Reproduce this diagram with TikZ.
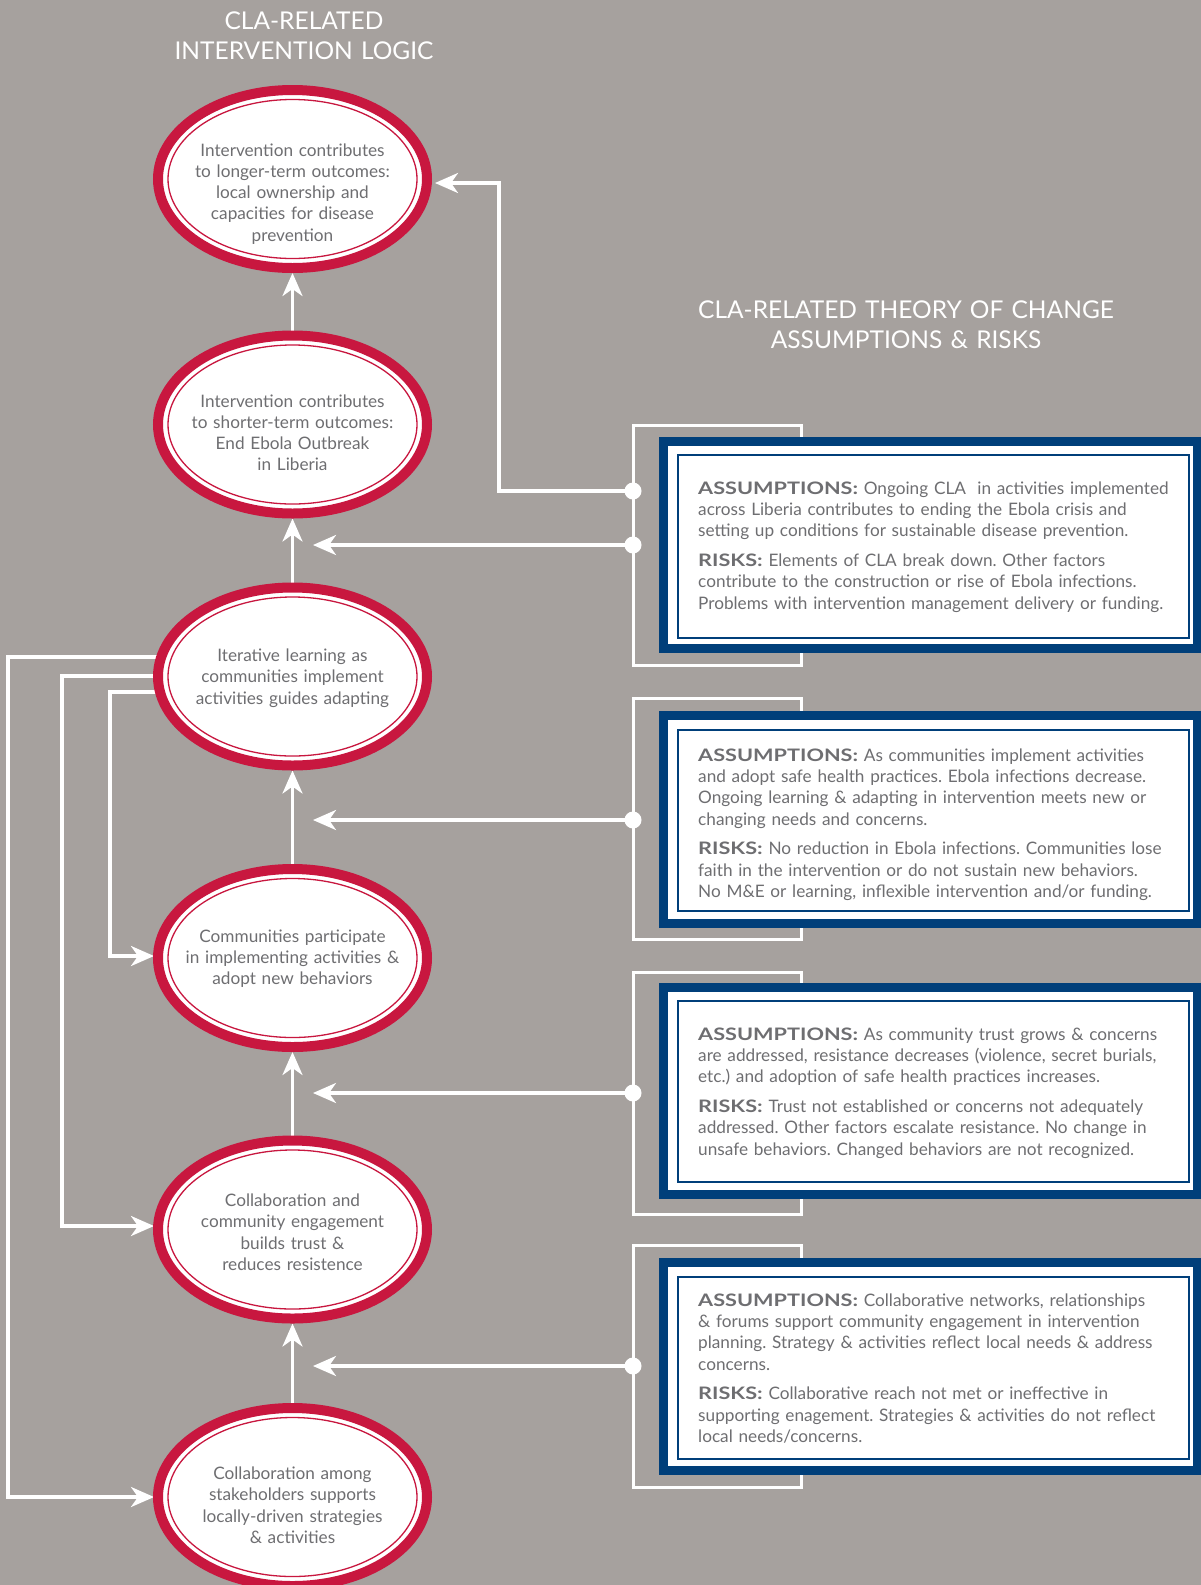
\documentclass[tikz,border=0pt]{standalone}
\usepackage{fontspec}
\setmainfont{Lato}
\usetikzlibrary{arrows.meta,shapes.geometric,calc}
\pgfdeclarelayer{paper}
\pgfdeclarelayer{links}
\pgfsetlayers{paper,links,main}
\definecolor{bg}{HTML}{A6A19E}
\definecolor{cred}{HTML}{C8173F}
\definecolor{cblue}{HTML}{003F7A}
\definecolor{tgray}{HTML}{6E6E71}
\newcommand{\hd}[1]{\scalebox{1.26}[1]{\textbf{#1}}}
\tikzset{
  ell/.style={ellipse, draw=cred, line width=10pt, fill=white, minimum width=269pt, minimum height=178pt, inner sep=0pt, outer sep=0pt},
  etext/.style={text width=280pt, align=center, anchor=base, inner sep=0pt, text=tgray, font=\fontsize{17.2}{21.3}\selectfont},
  btext/.style={text width=520pt, align=left, anchor=base west, inner sep=0pt, text=tgray, font=\fontsize{17.2}{21.4}\selectfont},
  ttext/.style={text width=500pt, align=center, anchor=base, inner sep=0pt, text=white},
  wline/.style={draw=white, line width=3.4pt},
  warrow/.style={wline, -{Stealth[length=23pt,width=20pt,inset=7pt]}},
  dot/.style={circle, fill=white, minimum size=17pt, inner sep=0pt},
  bracketline/.style={draw=white, line width=3pt},
  bluebox/.style={draw=cblue, line width=9pt, fill=white},
  blueinner/.style={draw=cblue, line width=1.5pt}
}
\begin{document}
\frenchspacing
\begin{tikzpicture}[x=1pt,y=-1pt]
\begin{pgfonlayer}{paper}
\fill[bg] (0,0) rectangle (1201,1585);
\end{pgfonlayer}
\useasboundingbox (0,0) rectangle (1201,1585);

% titles
\node[ttext, font=\fontsize{24.5}{30}\selectfont] (t1) at (304,29.5) {CLA-RELATED\\INTERVENTION LOGIC};
\node[ttext, font=\fontsize{24.5}{30}\selectfont] (t2) at (906,318.5) {CLA-RELATED THEORY OF CHANGE\\ASSUMPTIONS \& RISKS};

% brackets and blue boxes
\draw[bracketline] (633,425) rectangle (801,665);
\draw[bracketline] (633,698) rectangle (801,939);
\draw[bracketline] (633,972) rectangle (801,1214);
\draw[bracketline] (633,1245) rectangle (801,1487);

\draw[bluebox] (663.5,441.5) rectangle (1197.5,648.5);
\draw[blueinner] (678,455) rectangle (1189,638);
\draw[bluebox] (663.5,715.5) rectangle (1197.5,923.5);
\draw[blueinner] (678,730) rectangle (1189,911);
\draw[bluebox] (663.5,987.5) rectangle (1197.5,1194.5);
\draw[blueinner] (678,1001) rectangle (1189,1182);
\draw[bluebox] (663.5,1262.5) rectangle (1197.5,1470.5);
\draw[blueinner] (678,1277) rectangle (1189,1459);

% dots
\node[dot] (d1a) at (633,491) {};
\node[dot] (d1b) at (633,545) {};
\node[dot] (d2) at (633,820) {};
\node[dot] (d3) at (633,1093) {};
\node[dot] (d4) at (633,1366) {};

% ellipses
\foreach \n/\y in {e1/179,e2/424.5,e3/676.5,e4/958,e5/1229.5,e6/1497}{
  \node[ell] (\n) at (292.5,\y) {};
  \draw[cred, line width=1.3pt] (\n.center) ellipse [x radius=124.5pt, y radius=79.5pt];
}

\begin{pgfonlayer}{links}
% vertical arrows
\draw[warrow] (e2.north) -- ($(e1.south)+(0,5)$);
\draw[warrow] (e3.north) -- ($(e2.south)+(0,5)$);
\draw[warrow] (e4.north) -- ($(e3.south)+(0,5)$);
\draw[warrow] (e5.north) -- ($(e4.south)+(0,5)$);
\draw[warrow] (e6.north) -- ($(e5.south)+(0,5)$);
% from boxes
\draw[warrow] (d1a.center) -- (499,491) |- ($(e1.east)+(8,4)$);
\coordinate (h1) at (313,545);
\coordinate (h2) at (313,820);
\coordinate (h3) at (313,1093);
\coordinate (h4) at (313,1366);
\draw[warrow] (d1b.center) -- (h1);
\draw[warrow] (d2.center) -- (h2);
\draw[warrow] (d3.center) -- (h3);
\draw[warrow] (d4.center) -- (h4);
% feedback loops from iterative learning
\draw[warrow] ($(e3.west)+(10,-19.5)$) -- (8,657) |- ($(e6.west)+(-4,0)$);
\draw[warrow] ($(e3.west)+(10,-0.5)$) -- (62,676) |- ($(e5.west)+(-4,-3.5)$);
\draw[warrow] ($(e3.west)+(10,15.5)$) -- (110,692) |- ($(e4.west)+(-4,-2)$);
\end{pgfonlayer}

% ellipse texts
\node[etext] (x1) at (292.5,156) {Intervention contributes\\to longer-term outcomes:\\local ownership and\\capacities for disease\\prevention};
\node[etext] (x2) at (292.5,407) {Intervention contributes\\to shorter-term outcomes:\\End Ebola Outbreak\\in Liberia};
\node[etext] (x3) at (292.5,661.5) {Iterative learning as\\communities implement\\activities guides adapting};
\node[etext] (x4) at (292.5,942) {Communities participate\\in implementing activities \&\\adopt new behaviors};
\node[etext] (x5) at (292.5,1206.5) {Collaboration and\\community engagement\\builds trust \&\\reduces resistence};
\node[etext] (x6) at (292.5,1479.5) {Collaboration among\\stakeholders supports\\locally-driven strategies\\\& activities};

% box texts
\node[btext] (b1) at (698,494) {\hd{ASSUMPTIONS:} Ongoing CLA\ \ in activities implemented\\across Liberia contributes to ending the Ebola crisis and\\setting up conditions for sustainable disease prevention.\\[8pt]\hd{RISKS:} Elements of CLA break down. Other factors\\contribute to the construction or rise of Ebola infections.\\Problems with intervention management delivery or funding.};
\node[btext] (b2) at (698,761) {\hd{ASSUMPTIONS:} As communities implement activities\\and adopt safe health practices. Ebola infections decrease.\\Ongoing learning \& adapting in intervention meets new or\\changing needs and concerns.\\[8pt]\hd{RISKS:} No reduction in Ebola infections. Communities lose\\faith in the intervention or do not sustain new behaviors.\\No M\&E or learning, inflexible intervention and/or funding.};
\node[btext] (b3) at (698,1040) {\hd{ASSUMPTIONS:} As community trust grows \& concerns\\are addressed, resistance decreases (violence, secret burials,\\etc.) and adoption of safe health practices increases.\\[8pt]\hd{RISKS:} Trust not established or concerns not adequately\\addressed. Other factors escalate resistance. No change in\\unsafe behaviors. Changed behaviors are not recognized.};
\node[btext] (b4) at (698,1306) {\hd{ASSUMPTIONS:} Collaborative networks, relationships\\\& forums support community engagement in intervention\\planning. Strategy \& activities reflect local needs \& address\\concerns.\\[8pt]\hd{RISKS:} Collaborative reach not met or ineffective in\\supporting enagement. Strategies \& activities do not reflect\\local needs/concerns.};
\end{tikzpicture}
\end{document}
